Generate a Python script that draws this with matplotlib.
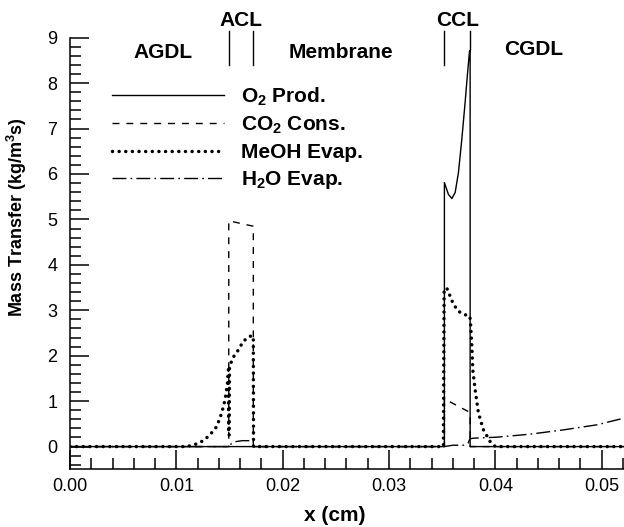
import numpy as np
import matplotlib
matplotlib.use("Agg")
import matplotlib.pyplot as plt
from matplotlib.ticker import MultipleLocator

plt.rcParams['font.family'] = ['Liberation Sans', 'DejaVu Sans']
plt.rcParams['mathtext.fontset'] = 'custom'
plt.rcParams['mathtext.rm'] = 'Liberation Sans:bold'
plt.rcParams['mathtext.it'] = 'Liberation Sans:bold'
plt.rcParams['mathtext.bf'] = 'Liberation Sans:bold'

# layer boundaries (cm): ACL left/right, CCL left/right
layer_edges = [0.01493, 0.01724, 0.03521, 0.03763]

# O2 production (solid)
o2_x = [0.0, 0.03521, 0.03521, 0.03537, 0.03559, 0.03591, 0.03622, 0.03653,
        0.03685, 0.03716, 0.03738, 0.03757, 0.03763, 0.03763, 0.0521]
o2_y = [0.0, 0.0, 5.81, 5.70, 5.55, 5.46, 5.59, 6.03,
        6.77, 7.58, 8.20, 8.70, 8.72, 0.0, 0.0]

# CO2 consumption (dashed)
co2_x = [0.0, 0.01493, 0.01493, 0.01724, 0.01724, 0.03521, 0.03521,
         0.03763, 0.03763, 0.0521]
co2_y = [0.0, 0.0, 4.97, 4.85, 0.0, 0.0, 1.05, 0.75, 0.0, 0.0]

# MeOH evaporation (dotted)
meoh_x = [0.0, 0.0110, 0.01192, 0.01254, 0.01317, 0.0138, 0.01427, 0.01458,
          0.01480, 0.01490, 0.01492, 0.01497, 0.01500, 0.01530, 0.01584,
          0.0163, 0.01693, 0.01724, 0.01726, 0.03512, 0.03518, 0.03543,
          0.03575, 0.03606, 0.03653, 0.0370, 0.03757, 0.03765, 0.03779,
          0.03788, 0.0381, 0.03841, 0.03888, 0.03951, 0.0400, 0.0521]
meoh_y = [0.0, 0.0, 0.06, 0.13, 0.26, 0.44, 0.74, 1.03,
          1.38, 1.69, 0.25, 0.25, 1.75, 1.95, 2.13,
          2.32, 2.43, 2.43, 0.0, 0.0, 3.45, 3.49,
          3.31, 3.13, 2.98, 2.91, 2.88, 2.80, 2.21,
          1.69, 1.25, 0.74, 0.37, 0.11, 0.0, 0.0]

# H2O evaporation (dash-dot)
h2o_x = [0.0, 0.01493, 0.0152, 0.0156, 0.0162, 0.01724, 0.01724, 0.03521,
         0.0360, 0.0370, 0.03745, 0.03760, 0.03794, 0.04014, 0.04327,
         0.04641, 0.04955, 0.0521]
h2o_y = [0.0, 0.0, 0.07, 0.11, 0.13, 0.13, 0.0, 0.0,
         0.03, 0.03, 0.08, 0.17, 0.185, 0.207, 0.273,
         0.368, 0.479, 0.626]

region_labels = ['AGDL', 'ACL', 'Membrane', 'CCL', 'CGDL']

fig = plt.figure(figsize=(6.24, 5.27), dpi=100)
ax = fig.add_axes([70 / 624, 57.7 / 527, 554 / 624, 431.6 / 527])

ax.plot(o2_x, o2_y, color='black', lw=1.0, label=r'O$_2$ Prod.', zorder=3)
ax.plot(co2_x, co2_y, color='black', lw=1.0, dashes=(5, 5),
        label=r'CO$_2$ Cons.', zorder=3)
ax.plot(meoh_x, meoh_y, color='black', lw=2.5, linestyle=(0, (0.01, 1.9)),
        dash_capstyle='round', label='MeOH Evap.', zorder=4)
ax.plot(h2o_x, h2o_y, color='black', lw=1.0, dashes=(10, 3, 1.2, 3),
        label=r'H$_2$O Evap.', zorder=3)

ax.set_xlim(0, 0.0521)
ax.set_ylim(-0.5, 9)
ax.xaxis.set_major_locator(MultipleLocator(0.01))
ax.xaxis.set_minor_locator(MultipleLocator(0.002))
ax.yaxis.set_major_locator(MultipleLocator(1))
ax.yaxis.set_minor_locator(MultipleLocator(0.2))
ax.xaxis.set_major_formatter(plt.FuncFormatter(lambda v, p: f'{v:.2f}'))
ax.set_yticks(range(0, 10))

ax.tick_params(which='both', direction='in', width=1.1, labelsize=13,
               top=False, right=False)
ax.tick_params(which='major', length=13.5)
ax.tick_params(which='minor', length=8)
ax.tick_params(axis='y', pad=9)
ax.tick_params(axis='x', pad=6)
for s in ['top', 'right']:
    ax.spines[s].set_visible(False)
for s in ['left', 'bottom']:
    ax.spines[s].set_linewidth(1.1)

ax.set_xlabel('x (cm)', fontsize=15, fontweight='bold')
ax.xaxis.set_label_coords(0.478, -0.085)
ax.set_ylabel(r'Mass Transfer (kg/m$^3$s)', fontsize=13, fontweight='bold')
ax.yaxis.set_label_coords(-0.074, 0.585)

# region markers and labels
for i, xe in enumerate(layer_edges):
    y_low = 8.75 if i == 3 else 8.4
    ax.plot([xe, xe], [9.14, y_low], color='black', lw=1.0, clip_on=False)

label_x = [0.00872, (layer_edges[0] + layer_edges[1]) / 2, 0.02545,
           (layer_edges[2] + layer_edges[3]) / 2, 0.04358]
label_y = [8.68, 9.38, 8.68, 9.37, 8.75]
for name, lx, ly in zip(region_labels, label_x, label_y):
    ax.text(lx, ly, name, fontsize=15, fontweight='bold',
            ha='center', va='center', clip_on=False)

leg = ax.legend(loc='upper left', bbox_to_anchor=(0.075, 0.889),
                frameon=False, handlelength=5.4, handletextpad=0.8,
                labelspacing=0.33, borderpad=0, borderaxespad=0,
                prop={'size': 15, 'weight': 'bold'})

fig.savefig('out.png', dpi=100)
